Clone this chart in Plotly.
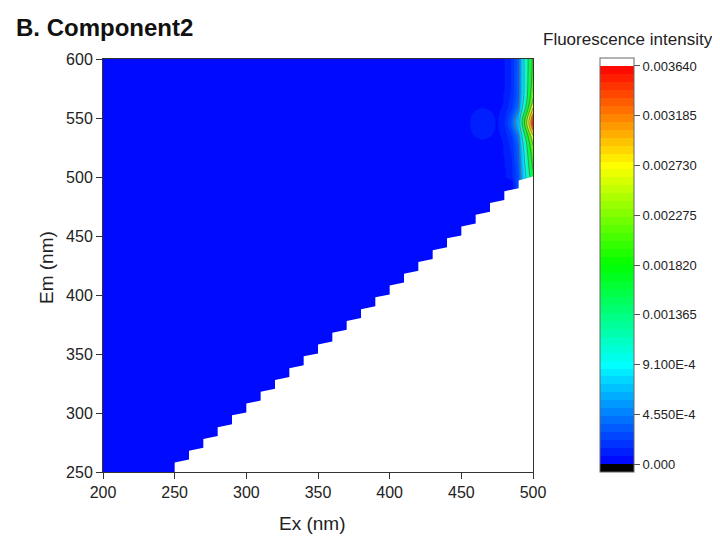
import numpy as np
import plotly.graph_objects as go

# ---- axes / grid (nm) ----
ex_start, ex_end, ex_step = 200, 500, 5
em_start, em_end, em_step = 250, 600, 5

# background intensity over most of the map (lowest band)
base_intensity = 0.00003

# emission points for the right-edge peak region
em_edge = [500, 505, 510, 515, 520, 525, 530, 535, 540, 545, 550,
           555, 560, 565, 570, 575, 580, 585, 590, 595, 600]
# intensity columns read near the right edge (Ex = 480..500)
int_ex480 = [0.00006, 0.00006, 0.00007, 0.00007, 0.00008, 0.00008, 0.00009, 0.00010, 0.00012, 0.00014, 0.00013,
             0.00011, 0.00009, 0.00008, 0.00008, 0.00007, 0.00007, 0.00007, 0.00007, 0.00007, 0.00007]
int_ex485 = [0.00012, 0.00012, 0.00013, 0.00014, 0.00015, 0.00016, 0.00018, 0.00021, 0.00027, 0.00032, 0.00030,
             0.00024, 0.00019, 0.00017, 0.00016, 0.00015, 0.00015, 0.00015, 0.00015, 0.00015, 0.00015]
int_ex490 = [0.00030, 0.00030, 0.00032, 0.00034, 0.00035, 0.00036, 0.00040, 0.00045, 0.00058, 0.00068, 0.00064,
             0.00050, 0.00041, 0.00037, 0.00035, 0.00035, 0.00035, 0.00035, 0.00035, 0.00035, 0.00035]
int_ex495 = [0.00090, 0.00095, 0.00100, 0.00105, 0.00110, 0.00118, 0.00128, 0.00148, 0.00180, 0.00210, 0.00200,
             0.00160, 0.00132, 0.00120, 0.00112, 0.00110, 0.00110, 0.00110, 0.00110, 0.00110, 0.00110]
int_ex500 = [0.00170, 0.00180, 0.00190, 0.00200, 0.00210, 0.00222, 0.00240, 0.00270, 0.00320, 0.00358, 0.00345,
             0.00300, 0.00260, 0.00232, 0.00220, 0.00210, 0.00202, 0.00198, 0.00193, 0.00190, 0.00190]
edge_ex = [480, 485, 490, 495, 500]
edge_cols = [int_ex480, int_ex485, int_ex490, int_ex495, int_ex500]

# faint patch around Ex 455-475 / Em 530-560 (rows = em, cols = ex)
blob_ex = [455, 460, 465, 470, 475]
blob_em = [530, 535, 540, 545, 550, 555, 560]
blob_int = [[0.00003, 0.00005, 0.00006, 0.00005, 0.00003],
            [0.00005, 0.00008, 0.00010, 0.00008, 0.00005],
            [0.00006, 0.00010, 0.00012, 0.00010, 0.00006],
            [0.00006, 0.00011, 0.00013, 0.00011, 0.00006],
            [0.00006, 0.00010, 0.00012, 0.00010, 0.00006],
            [0.00005, 0.00008, 0.00010, 0.00008, 0.00005],
            [0.00003, 0.00005, 0.00006, 0.00005, 0.00003]]

# staircase cutoff (lower-right masked region): per 10-nm Ex bin
step_ex = [250, 260, 270, 280, 290, 300, 310, 320, 330, 340, 350, 360, 370,
           380, 390, 400, 410, 420, 430, 440, 450, 460, 470, 480, 490]
step_em_left = [258, 268, 278, 288, 298, 308, 318, 328, 338, 348, 358, 368, 378,
                388, 398, 408, 418, 428, 438, 448, 458, 468, 478, 488, 497]
step_em_right = [260.5, 270.5, 280.5, 290.5, 300.5, 310.5, 320.5, 330.5, 340.5, 350.5, 360.5, 370.5, 380.5,
                 390.5, 400.5, 410.5, 420.5, 430.5, 440.5, 450.5, 460.5, 470.5, 480.5, 490.5, 500.5]

# colour bar
cbar_tickvals = [0, 0.000455, 0.00091, 0.001365, 0.00182, 0.002275, 0.00273, 0.003185, 0.00364]
cbar_ticktext = ["0.000", "4.550E-4", "9.100E-4", "0.001365", "0.001820",
                 "0.002275", "0.002730", "0.003185", "0.003640"]
zmax = 0.00364
nbands = 50
cs = zmax / nbands

# jet colour stops (value -> colour)
jet_vals = [0.0, 0.00091, 0.00182, 0.00273, 0.00364]
jet_rgb = [(0, 0, 255), (0, 255, 255), (0, 255, 0), (255, 255, 0), (255, 0, 0)]

def jet_color(v):
    r = np.interp(v, jet_vals, [c[0] for c in jet_rgb])
    g = np.interp(v, jet_vals, [c[1] for c in jet_rgb])
    b = np.interp(v, jet_vals, [c[2] for c in jet_rgb])
    return "rgb(%d,%d,%d)" % (round(r), round(g), round(b))

# ---- build grid ----
ex = np.arange(ex_start, ex_end + 1, ex_step)
em = np.arange(em_start, em_end + 1, em_step)
z = np.full((len(em), len(ex)), base_intensity)
for exv, col in zip(edge_ex, edge_cols):
    j = int(np.where(ex == exv)[0][0])
    for emv, val in zip(em_edge, col):
        i = int(np.where(em == emv)[0][0])
        z[i, j] = val
    for i, emv in enumerate(em):
        if emv < em_edge[0]:
            z[i, j] = col[0] if exv >= 490 else base_intensity
for bi, by in enumerate(blob_em):
    for bj, bx in enumerate(blob_ex):
        z[int(np.where(em == by)[0][0]), int(np.where(ex == bx)[0][0])] = blob_int[bi][bj]

# ---- contour fill colour scale (black below 0, jet, white above max) ----
nc = nbands + 1
def frac(v):
    return (v / cs + 0.5) / nc
colorscale = [[0.0, "#000000"], [frac(0) - 1e-9, "#000000"]]
for v, c in zip(jet_vals, jet_rgb):
    colorscale.append([frac(v), "rgb(%d,%d,%d)" % c])
colorscale.append([frac(zmax) + 1e-9, "#FFFFFF"])
colorscale.append([1.0, "#FFFFFF"])

# ---- stepped colour bar scale over [-cs, zmax+cs] ----
nb = nbands + 2
bar_scale = []
for k in range(nb):
    if k == 0:
        col = "#000000"
    elif k == nb - 1:
        col = "#FFFFFF"
    else:
        col = jet_color((k - 0.5) * cs)
    bar_scale.append([k / nb, col])
    bar_scale.append([(k + 1) / nb, col])

PW, PH = 430, 413
fig = go.Figure()

fig.add_trace(go.Contour(
    x=ex, y=em, z=z,
    autocontour=False,
    contours=dict(start=0, end=zmax, size=cs, coloring="fill", showlines=False),
    line=dict(width=0),
    colorscale=colorscale,
    showscale=False,
    hoverinfo="skip",
))

fig.add_trace(go.Contour(
    x=ex, y=em, z=z,
    autocontour=False,
    contours=dict(start=0.000455, end=zmax, size=0.000455, coloring="none"),
    line=dict(width=0.8, color="#6a6a6a"),
    showscale=False,
    hoverinfo="skip",
))

# off-range carrier for the stepped colour bar
fig.add_trace(go.Heatmap(
    x=[0, 1], y=[0, 1], z=[[0, zmax], [0, zmax]],
    zmin=-cs, zmax=zmax + cs, colorscale=bar_scale,
    showscale=True, hoverinfo="skip",
    colorbar=dict(
        thickness=34, thicknessmode="pixels",
        len=414, lenmode="pixels",
        x=(600 - 103) / PW, xanchor="left", xpad=0,
        y=1.0 + 1 / PH, yanchor="top", ypad=0,
        tickmode="array", tickvals=cbar_tickvals, ticktext=cbar_ticktext,
        ticks="outside", ticklen=6, tickcolor="#555",
        tickfont=dict(family="Liberation Sans", size=13, color="#222"),
        outlinewidth=1, outlinecolor="#666",
    ),
))

# staircase mask polygon
mx, my = [step_ex[0]], [em_start - 2]
for L, a, b in zip(step_ex, step_em_left, step_em_right):
    mx += [L, L + 10]
    my += [a, b]
mx += [ex_end + 2, ex_end + 2, step_ex[0]]
my += [step_em_right[-1], em_start - 2, em_start - 2]
fig.add_trace(go.Scatter(
    x=mx, y=my, mode="lines", fill="toself",
    fillcolor="white", line=dict(width=0, color="white"),
    showlegend=False, hoverinfo="skip",
))

axis_common = dict(
    showline=True, linecolor="#333", linewidth=1, mirror=True,
    ticks="outside", ticklen=6, tickcolor="#333",
    showgrid=False, zeroline=False,
    tickfont=dict(family="Liberation Sans", size=16, color="#222"),
)
fig.update_xaxes(range=[ex_start, ex_end], tickvals=[200, 250, 300, 350, 400, 450, 500], **axis_common)
fig.update_yaxes(range=[em_start, em_end], tickvals=[250, 300, 350, 400, 450, 500, 550, 600], **axis_common)

fig.update_layout(
    width=712, height=532,
    margin=dict(l=95, r=187, t=51, b=68, pad=0),
    paper_bgcolor="white", plot_bgcolor="white",
    showlegend=False,
    font=dict(family="Liberation Sans", color="#222"),
    annotations=[
        dict(text="<b>B. Component2</b>", xref="paper", yref="paper",
             x=(14 - 103) / PW, y=(472 - 27) / PH, xanchor="left", yanchor="middle",
             showarrow=False, font=dict(size=24, color="#111")),
        dict(text="Fluorescence intensity", xref="paper", yref="paper",
             x=(628 - 103) / PW, y=(472 - 40) / PH, xanchor="center", yanchor="middle",
             showarrow=False, font=dict(size=17, color="#222")),
        dict(text="Ex (nm)", xref="paper", yref="paper",
             x=(312 - 103) / PW, y=(472 - 523) / PH, xanchor="center", yanchor="middle",
             showarrow=False, font=dict(size=19, color="#222")),
        dict(text="Em (nm)", xref="paper", yref="paper", textangle=-90,
             x=(46 - 103) / PW, y=(472 - 268) / PH, xanchor="center", yanchor="middle",
             showarrow=False, font=dict(size=19, color="#222")),
    ],
)

fig.write_html("out.html")
